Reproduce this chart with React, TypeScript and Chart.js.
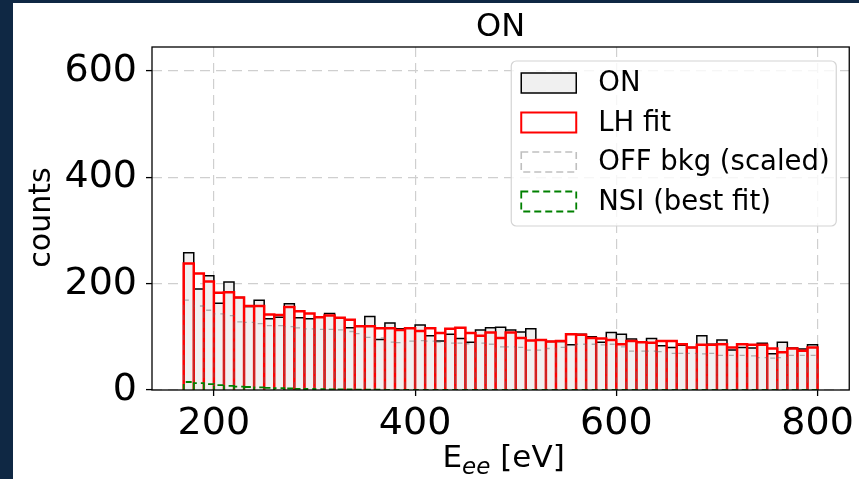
import React, { useEffect, useRef } from 'react';
import { Chart, registerables } from 'chart.js';

Chart.register(...registerables);

// ---- data ----
const binEdges = [
  170, 180, 190, 200, 210, 220, 230, 240, 250, 260, 270, 280, 290, 300, 310, 320,
  330, 340, 350, 360, 370, 380, 390, 400, 410, 420, 430, 440, 450, 460, 470, 480,
  490, 500, 510, 520, 530, 540, 550, 560, 570, 580, 590, 600, 610, 620, 630, 640,
  650, 660, 670, 680, 690, 700, 710, 720, 730, 740, 750, 760, 770, 780, 790, 800,
];

const onCounts = [
  258, 190, 215, 163, 203, 174, 157, 169, 134, 137, 162, 136, 134, 137, 144, 136,
  117, 121, 138, 95, 126, 115, 116, 122, 102, 92, 105, 97, 90, 113, 117, 118,
  113, 109, 115, 94, 91, 91, 85, 105, 100, 90, 108, 105, 96, 90, 97, 83,
  80, 84, 80, 102, 86, 94, 75, 80, 79, 88, 68, 90, 79, 77, 85,
];

const lhFit = [
  238, 219, 204, 183, 184, 174, 158, 158, 142, 141, 156, 148, 144, 137, 140, 136,
  132, 120, 120, 116, 116, 113, 116, 111, 116, 107, 115, 117, 107, 102, 108, 98,
  108, 98, 93, 94, 91, 92, 105, 104, 98, 97, 94, 86, 92, 90, 89, 92,
  92, 86, 80, 85, 85, 86, 80, 86, 85, 85, 78, 71, 78, 74, 80,
];

const offBkg = [
  169, 158, 150, 143, 140, 128, 127, 125, 121, 121, 119, 117, 115, 114, 114, 113,
  110, 106, 99, 98, 90, 89, 92, 93, 92, 90, 88, 88, 87, 88, 86, 81,
  81, 80, 75, 75, 78, 80, 84, 86, 86, 85, 86, 81, 73, 73, 73, 72,
  69, 69, 69, 68, 69, 65, 65, 65, 64, 61, 60, 61, 65, 65, 65,
];

const nsiFit = [
  15, 13, 11, 9, 7.6, 6.3, 5.6, 5, 4, 3.4, 2.8, 2.3, 1.9, 1.6, 1.3, 1.1,
  0.9, 0.8, 0.6, 0.5, 0.4, 0.35, 0.3, 0.25, 0.2, 0.15, 0.12, 0.1, 0.08, 0.06, 0.05, 0.04,
  0.03, 0.02, 0.02, 0.01, 0.01, 0.01, 0, 0, 0, 0, 0, 0, 0, 0, 0, 0,
  0, 0, 0, 0, 0, 0, 0, 0, 0, 0, 0, 0, 0, 0, 0,
];

const xTicks = [200, 400, 600, 800];
const yTicks = [0, 200, 400, 600];
const titleText = 'ON';
const yLabel = 'counts';
const xLabelMain = 'E';
const xLabelSub = 'ee';
const xLabelUnit = ' [eV]';
const legendLabels = ['ON', 'LH fit', 'OFF bkg (scaled)', 'NSI (best fit)'];

const FONT = '"DejaVu Sans", sans-serif';
const ON_FILL = '#f0f0f0';
const OFF_COLOR = 'rgba(105,105,105,0.5)';
const NSI_COLOR = '#008000';

function stepPath(values: number[]) {
  const pts: { x: number; y: number }[] = [];
  values.forEach((v, i) => {
    pts.push({ x: binEdges[i], y: 0 });
    pts.push({ x: binEdges[i], y: v });
    pts.push({ x: binEdges[i + 1], y: v });
    pts.push({ x: binEdges[i + 1], y: 0 });
  });
  return pts;
}

const decorPlugin = {
  id: 'decor',
  afterDraw(chart: any) {
    const { ctx, chartArea: a } = chart;
    ctx.save();
    // spines
    ctx.setLineDash([]);
    ctx.strokeStyle = '#000';
    ctx.lineWidth = 1.3;
    ctx.strokeRect(a.left, a.top, a.right - a.left, a.bottom - a.top);

    const cx = (a.left + a.right) / 2;
    ctx.fillStyle = '#000';

    // title
    ctx.font = `32px ${FONT}`;
    ctx.textAlign = 'center';
    ctx.textBaseline = 'alphabetic';
    ctx.fillText(titleText, cx, 33);

    // y label
    ctx.save();
    ctx.translate(37, (a.top + a.bottom) / 2 - 1);
    ctx.rotate(-Math.PI / 2);
    ctx.font = `30px ${FONT}`;
    ctx.textAlign = 'center';
    ctx.fillText(yLabel, 0, 0);
    ctx.restore();

    // x label with subscript
    ctx.textAlign = 'left';
    ctx.font = `31px ${FONT}`;
    const wE = ctx.measureText(xLabelMain).width;
    const wRest = ctx.measureText(xLabelUnit).width;
    ctx.font = `italic 23px ${FONT}`;
    const wSub = ctx.measureText(xLabelSub).width;
    const total = wE + wSub + wRest;
    let x = cx + 3 - total / 2;
    const base = 464;
    ctx.font = `31px ${FONT}`;
    ctx.fillText(xLabelMain, x, base);
    x += wE;
    ctx.font = `italic 23px ${FONT}`;
    ctx.fillText(xLabelSub, x, base + 7);
    x += wSub;
    ctx.font = `31px ${FONT}`;
    ctx.fillText(xLabelUnit, x, base);

    // legend
    const bw = 325;
    const bh = 165;
    const bx = a.right - 13 - bw;
    const by = a.top + 14;
    ctx.beginPath();
    if (ctx.roundRect) ctx.roundRect(bx, by, bw, bh, 5);
    else ctx.rect(bx, by, bw, bh);
    ctx.fillStyle = 'rgba(255,255,255,0.8)';
    ctx.fill();
    ctx.strokeStyle = '#d4d4d4';
    ctx.lineWidth = 1.2;
    ctx.stroke();

    const styles = [
      { fill: ON_FILL, stroke: '#000', dash: [] as number[], lw: 1.5 },
      { fill: null, stroke: '#ff0000', dash: [] as number[], lw: 2 },
      { fill: null, stroke: 'rgba(128,128,128,0.5)', dash: [7, 4], lw: 1.6 },
      { fill: null, stroke: NSI_COLOR, dash: [7, 4], lw: 1.8 },
    ];
    legendLabels.forEach((label, i) => {
      const rowC = by + 22 + i * 39.5;
      const hx = bx + 10;
      const hw = 55;
      const hh = 20;
      const st = styles[i];
      if (st.fill) {
        ctx.fillStyle = st.fill;
        ctx.fillRect(hx, rowC - hh / 2, hw, hh);
      }
      ctx.setLineDash(st.dash);
      ctx.strokeStyle = st.stroke;
      ctx.lineWidth = st.lw;
      ctx.strokeRect(hx, rowC - hh / 2, hw, hh);
      ctx.setLineDash([]);
      ctx.fillStyle = '#000';
      ctx.font = `27.5px ${FONT}`;
      ctx.textAlign = 'left';
      ctx.textBaseline = 'middle';
      ctx.fillText(label, bx + 87, rowC + 1);
    });
    ctx.restore();
  },
};

export default function App() {
  const canvasRef = useRef<HTMLCanvasElement | null>(null);

  useEffect(() => {
    const canvas = canvasRef.current;
    if (!canvas) return;
    const chart = new Chart(canvas, {
      type: 'line',
      data: {
        datasets: [
          {
            label: legendLabels[0],
            data: stepPath(onCounts),
            borderColor: '#000',
            backgroundColor: ON_FILL,
            borderWidth: 1.5,
            fill: 'origin',
            pointRadius: 0,
            tension: 0,
            order: 4,
          },
          {
            label: legendLabels[1],
            data: stepPath(lhFit),
            borderColor: '#ff0000',
            borderWidth: 2.5,
            fill: false,
            pointRadius: 0,
            tension: 0,
            order: 3,
          },
          {
            label: legendLabels[2],
            data: stepPath(offBkg),
            borderColor: OFF_COLOR,
            borderWidth: 1.3,
            borderDash: [5, 5],
            fill: false,
            pointRadius: 0,
            tension: 0,
            order: 2,
          },
          {
            label: legendLabels[3],
            data: stepPath(nsiFit),
            borderColor: NSI_COLOR,
            borderWidth: 1.8,
            borderDash: [6, 4],
            fill: false,
            pointRadius: 0,
            tension: 0,
            order: 1,
          },
        ] as any,
      },
      options: {
        animation: false,
        responsive: false,
        devicePixelRatio: 1,
        events: [],
        layout: { padding: { top: 44, right: 4, left: 0, bottom: 0 } },
        plugins: {
          legend: { display: false },
          tooltip: { enabled: false },
          title: { display: false },
        },
        scales: {
          x: {
            type: 'linear',
            min: 138.5,
            max: 831.5,
            afterBuildTicks: (axis: any) => {
              axis.ticks = xTicks.map((v) => ({ value: v }));
            },
            afterFit: (scale: any) => {
              scale.height = 89;
            },
            grid: {
              color: '#cfcfcf',
              lineWidth: 1.2,
              tickLength: 6,
              tickColor: '#000',
              tickWidth: 1.3,
              tickBorderDash: [],
            },
            border: { display: false, dash: [10, 6] },
            ticks: {
              color: '#000',
              font: { size: 38, family: FONT },
              padding: 5,
              maxRotation: 0,
              autoSkip: false,
            },
          },
          y: {
            type: 'linear',
            min: 0,
            max: 645,
            afterBuildTicks: (axis: any) => {
              axis.ticks = yTicks.map((v) => ({ value: v }));
            },
            afterFit: (scale: any) => {
              scale.width = 139;
            },
            grid: {
              color: '#cfcfcf',
              lineWidth: 1.2,
              tickLength: 6,
              tickColor: '#000',
              tickWidth: 1.3,
              tickBorderDash: [],
            },
            border: { display: false, dash: [10, 6] },
            ticks: {
              color: '#000',
              font: { size: 38, family: FONT },
              padding: 9,
              autoSkip: false,
            },
          },
        },
      } as any,
      plugins: [decorPlugin],
    });
    return () => chart.destroy();
  }, []);

  return (
    <div
      style={{
        position: 'fixed',
        left: 0,
        top: 0,
        width: 859,
        height: 479,
        background: '#0f2844',
        overflow: 'hidden',
      }}
    >
      <canvas
        ref={canvasRef}
        width={846}
        height={476}
        style={{
          position: 'absolute',
          left: 13,
          top: 3,
          width: 846,
          height: 476,
          background: '#ffffff',
          display: 'block',
        }}
      />
    </div>
  );
}
